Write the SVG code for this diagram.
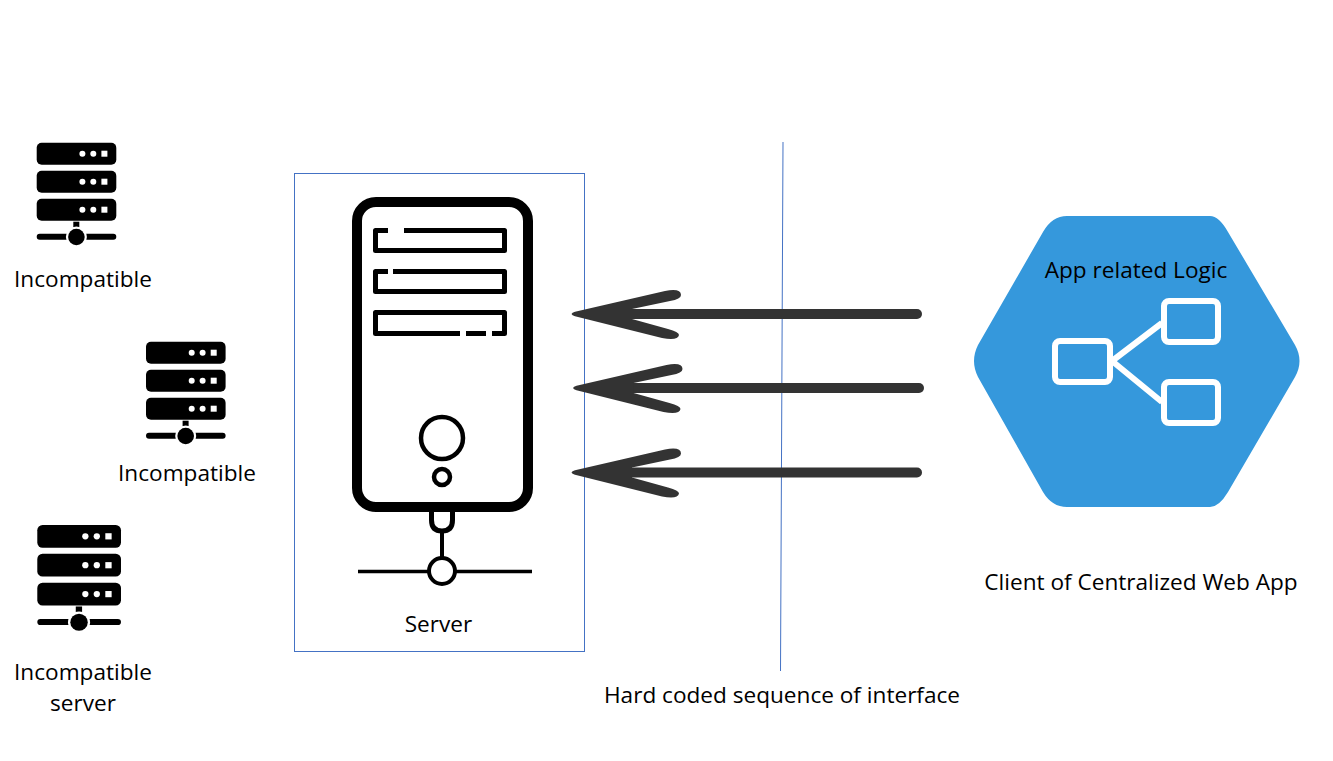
<svg xmlns="http://www.w3.org/2000/svg" width="1333" height="761" viewBox="0 0 1333 761">
<style>
text{font-family:"Open Sans","Noto Sans","Liberation Sans",sans-serif;font-size:22.6px;fill:#000;text-anchor:middle}
.blue{fill:none;stroke:#4472c4;stroke-width:1}
.k{fill:none;stroke:#000;stroke-linejoin:round}
.w{fill:none;stroke:#fff;stroke-width:6}
</style>
<defs>
<g id="rack">
<rect x="36.7" y="142.7" width="79.6" height="22" rx="5" fill="#000"/>
<rect x="36.7" y="170.7" width="79.6" height="22" rx="5" fill="#000"/>
<rect x="36.7" y="198.7" width="79.6" height="22" rx="5" fill="#000"/>
<g fill="#fff">
<circle cx="82.4" cy="153.7" r="3"/><circle cx="93.3" cy="153.7" r="3"/><rect x="101.4" y="150.7" width="6" height="6"/>
<circle cx="82.4" cy="181.7" r="3"/><circle cx="93.3" cy="181.7" r="3"/><rect x="101.4" y="178.7" width="6" height="6"/>
<circle cx="82.4" cy="209.7" r="3"/><circle cx="93.3" cy="209.7" r="3"/><rect x="101.4" y="206.7" width="6" height="6"/>
</g>
<rect x="73.3" y="221.7" width="6" height="6" fill="#000"/>
<rect x="36.7" y="233.7" width="79.6" height="6" rx="3" fill="#000"/>
<circle cx="76.4" cy="237" r="10.5" fill="#fff"/>
<circle cx="76.4" cy="237" r="8.3" fill="#000"/>
</g>
<path id="arrowhead" fill="#333" d="M571.500 314Q572 312.500 575 311.800L665 291Q681 288 681 295Q681 299 670 301L632 309V319L668 329Q679 332 679 335Q678 341 662 338L575 316.200Q572 315.500 571.500 314Z"/>
</defs>

<g id="server-incompatible-1"><use href="#rack"/><text x="83" y="287">Incompatible</text></g>
<g id="server-incompatible-2"><use href="#rack" x="109.3" y="199"/><text x="187" y="481">Incompatible</text></g>
<g id="server-incompatible-3"><use href="#rack" transform="translate(-1.3 377.7) scale(1.0515 1.032)"/><text x="83" y="680">Incompatible</text><text x="83" y="711">server</text></g>

<g id="server">
<rect class="blue" x="294.5" y="173.5" width="290" height="478"/>
<rect class="k" x="357" y="202" width="171" height="305" rx="19" stroke-width="10"/>
<path class="k" stroke-width="5" d="M388 230.500H375.500V250.500H504.500V230.500H404"/>
<path class="k" stroke-width="5" d="M388 271.500H375.500V291.500H504.500V271.500H393"/>
<path class="k" stroke-width="5" d="M460 333.500H375.500V312.500H504.500V333.500H492M486 333.500H466"/>
<circle class="k" cx="442" cy="438" r="21" stroke-width="4.500"/>
<circle class="k" cx="442" cy="477" r="8" stroke-width="4.500"/>
<path class="k" stroke-width="5" d="M431.500 511V520Q431.500 531 442 531Q452.500 531 452.500 520V511"/>
<path class="k" stroke-width="4" d="M442 532V557"/>
<path class="k" stroke-width="3.500" d="M358 571.500H429M456 571.500H532"/>
<circle class="k" cx="442" cy="571" r="13" stroke-width="4"/>
<text x="438.500" y="632">Server</text>
</g>

<g id="connectors">
<path fill="none" stroke="#4472c4" stroke-width="1" d="M783 142L780.500 671"/>
<g stroke="#333" stroke-width="10" stroke-linecap="round" fill="none">
<path d="M630 314H917"/><path d="M630 388H919"/><path d="M630 472.500H917"/>
</g>
<use href="#arrowhead"/>
<use href="#arrowhead" x="1.500" y="74"/>
<use href="#arrowhead" y="158.500"/>
</g>

<g id="client">
<path fill="#3598dc" d="M1043 232Q1052 216 1067 216H1210Q1219 216 1228 232L1295 345Q1304 361 1295 377L1228 492Q1219 507 1210 507H1067Q1052 507 1043 492L978 377Q970 361 978 345Z"/>
<rect class="w" x="1055" y="341" width="55" height="41" rx="5"/>
<rect class="w" x="1164" y="301" width="54" height="41" rx="5"/>
<rect class="w" x="1164" y="382" width="54" height="41" rx="5"/>
<path class="w" d="M1112 361L1162 323M1112 361L1162 402"/>
<text x="1136" y="278">App related Logic</text>
<text x="1141" y="590">Client of Centralized Web App</text>
</g>

<g id="interface-label"><text x="782" y="703">Hard coded sequence of interface</text></g>
</svg>
